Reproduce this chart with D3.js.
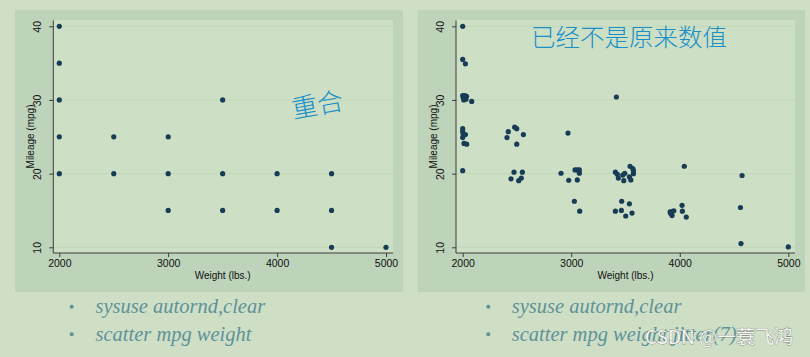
<!DOCTYPE html>
<html><head><meta charset="utf-8">
<script src="https://cdn.jsdelivr.net/npm/d3@7"></script>
<style>
html,body{margin:0;padding:0;background:#cfdfc6;}
svg{display:block;}
</style></head>
<body>
<svg id="c" width="810" height="357"></svg>
<script>
// ---- data ----
const xTicks = [2000, 3000, 4000, 5000];
const yTicks = [10, 20, 30, 40];
const xTitle = "Weight (lbs.)";
const yTitle = "Mileage (mpg)";

// left: rounded values (overlapping)
const leftWeight = [2000,2000,2000,2000,2000,2500,2500,3000,3000,3000,3500,3500,3500,4000,4000,4500,4500,4500,5000];
const leftMpg    = [40,35,30,25,20,25,20,25,20,15,30,20,15,20,15,20,15,10,10];

// right: jittered values
const rightWeight = [2000,2000,2025,2000,2010,2020,2035,2030,2005,2083,2000,2000,2005,2025,2000,2012,2037,2000,
  2420,2408,2479,2498,2559,2498,2473,2550,2445,2540,2516,
  2970,2906,3035,3056,3075,3075,2977,3056,3029,3078,
  3416,3542,3567,3573,3573,3407,3425,3434,3475,3493,3484,3536,3549,3465,3536,3407,3462,3502,3560,
  4042,3911,3929,3945,3929,3917,4021,4024,4060,
  4574,4559,4564,5000];
const rightMpg = [40.0,35.5,34.9,30.6,30.0,30.6,30.5,30.1,30.3,29.8,26.1,25.7,25.3,25.3,24.9,24.1,24.0,20.4,
  25.7,24.9,26.3,26.1,25.3,24.0,20.2,20.2,19.3,19.4,19.05,
  25.5,20.05,20.5,20.5,20.5,20.05,19.1,19.15,16.25,14.9,
  30.4,21.0,20.7,20.4,20.0,20.2,19.9,19.4,19.8,20.05,19.05,19.55,19.15,16.25,15.9,14.9,15.0,14.25,14.65,
  21.0,14.8,14.85,14.95,14.3,14.6,15.7,14.9,14.1,
  19.75,15.4,10.5,10.05];

const leftNote = "重合";
const rightNote = "已经不是原来数值";
const leftLines = ["sysuse autornd,clear", "scatter mpg weight"];
const rightLines = ["sysuse autornd,clear", "scatter mpg weight,jitter(7)"];
const watermark = "CSDN @一蓑飞鸿";

// ---- drawing ----
const svg = d3.select("#c");
const C = {outer:"#bdd3ba", plot:"#cddfc4", grid:"#c2d9bc", axis:"#3c3c3c", marker:"#183c56",
           note:"#1a8fc8", bullet:"#5e9298"};

function panel(o, xs, ys) {
  const g = svg.append("g");
  g.append("rect").attr("x", o.ox).attr("y", 10).attr("width", o.ow).attr("height", 282).attr("fill", C.outer);
  g.append("rect").attr("x", o.axX).attr("y", 20).attr("width", o.pr - o.axX).attr("height", 233).attr("fill", C.plot);
  const x = d3.scaleLinear().domain([2000, 5000]).range([o.x0, o.x1]);
  const y = d3.scaleLinear().domain([10, 40]).range([247.3, 26.3]);
  // grid
  g.selectAll(".gl").data(yTicks).join("line")
    .attr("x1", o.axX).attr("x2", o.pr).attr("y1", d => y(d)).attr("y2", d => y(d))
    .attr("stroke", C.grid).attr("stroke-width", 1.2);
  // y axis
  const ya = g.append("g").attr("transform", `translate(${o.axX},0)`)
    .call(d3.axisLeft(y).tickValues(yTicks).tickSize(4).tickPadding(3));
  ya.select(".domain").attr("d", `M0,20.5V253`).attr("stroke", C.axis);
  ya.selectAll(".tick line").attr("stroke", C.axis);
  ya.selectAll(".tick text").attr("transform", "rotate(-90)").attr("x", 0).attr("y", -12)
    .attr("dy", "0").attr("text-anchor", "middle")
    .style("font-family", "Liberation Sans, Arial, sans-serif").style("font-size", "10.5px").attr("fill", "#111");
  // x axis
  const xa = g.append("g").attr("transform", "translate(0,253)")
    .call(d3.axisBottom(x).tickValues(xTicks).tickFormat(d3.format("d")).tickSize(4).tickPadding(3));
  xa.select(".domain").attr("d", `M${o.axX},0H${o.pr}`).attr("stroke", C.axis);
  xa.selectAll(".tick line").attr("stroke", C.axis);
  xa.selectAll(".tick text").style("font-family", "Liberation Sans, Arial, sans-serif")
    .style("font-size", "10.5px").attr("fill", "#111");
  // titles
  g.append("text").attr("x", (o.x0 + o.x1) / 2).attr("y", 279).attr("text-anchor", "middle")
    .style("font-family", "Liberation Sans, Arial, sans-serif").style("font-size", "10px").attr("fill", "#111")
    .text(xTitle);
  g.append("text").attr("transform", `translate(${o.axX - 19.5},136.5) rotate(-90)`).attr("text-anchor", "middle")
    .style("font-family", "Liberation Sans, Arial, sans-serif").style("font-size", "10px").attr("fill", "#111")
    .text(yTitle);
  // points
  g.selectAll(".pt").data(xs.map((w, i) => [w, ys[i]])).join("circle")
    .attr("cx", d => x(d[0])).attr("cy", d => y(d[1])).attr("r", 2.6).attr("fill", C.marker);
}

panel({ox:15, ow:388, axX:53.3, pr:393, x0:59.3, x1:386}, leftWeight, leftMpg);
panel({ox:417.7, ow:387.3, axX:456, pr:795, x0:462.7, x1:788.3}, rightWeight, rightMpg);

// handwritten notes
svg.append("text").attr("transform", "translate(319,114) rotate(-10)").attr("text-anchor", "middle")
  .style("font-family", "Noto Sans CJK SC, sans-serif").style("font-size", "26px").style("font-weight", "300")
  .attr("fill", C.note).text(leftNote);
svg.append("text").attr("x", 629).attr("y", 46).attr("text-anchor", "middle")
  .attr("textLength", 196).attr("lengthAdjust", "spacingAndGlyphs")
  .style("font-family", "Noto Sans CJK SC, sans-serif").style("font-size", "24px").style("font-weight", "300")
  .attr("fill", C.note).text(rightNote);

// bullet lines
function bullets(bx, tx, lines) {
  lines.forEach((t, i) => {
    const cy = 306.7 + i * 27.6;
    svg.append("circle").attr("cx", bx).attr("cy", cy).attr("r", 2).attr("fill", C.bullet);
    svg.append("text").attr("x", tx).attr("y", cy + 6.5)
      .style("font-family", "Liberation Serif, serif").style("font-style", "italic").style("font-size", "20.5px")
      .attr("fill", C.bullet).text(t);
  });
}
bullets(71.7, 95.5, leftLines);
bullets(488.3, 511.7, rightLines);

// watermark (overlays the last bullet line, as in the reference)
svg.append("text").attr("x", 645).attr("y", 344)
  .style("font-family", "Noto Sans CJK SC, sans-serif").style("font-size", "19px")
  .attr("fill", "rgba(255,255,255,0.9)").attr("stroke", "rgba(70,70,70,0.55)").attr("stroke-width", 0.8)
  .style("paint-order", "stroke")
  .text(watermark);
</script>
</body></html>
